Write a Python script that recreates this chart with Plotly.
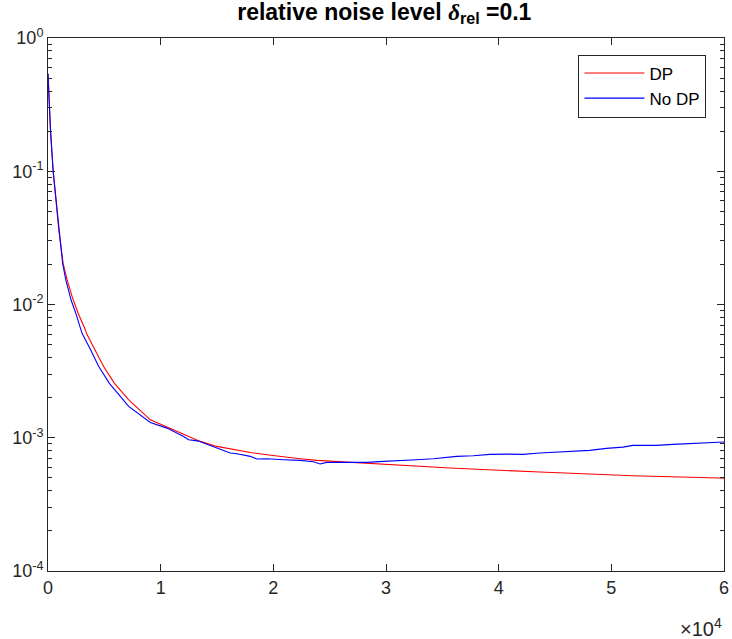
import plotly.graph_objects as go

# ---- data ----
dp_iter = [0, 222, 458, 960, 1345, 1699, 2142, 2674, 3324, 3410, 4150, 4940, 5900, 7150,
           9084, 10562, 12039, 13516, 14993, 16470, 17947, 19425, 20902, 22379, 23856,
           25333, 26810, 28288, 29765, 31242, 32719, 34196, 35673, 43650, 51921, 59602, 60000]
dp_err = [0.539, 0.203, 0.1, 0.0361, 0.0203, 0.0153, 0.01145, 0.00859, 0.00644, 0.00608,
          0.0046, 0.00342, 0.00256, 0.00193,
          1.364e-3, 1.202e-3, 1.053e-3, 9.39e-4, 8.61e-4, 8.13e-4, 7.76e-4, 7.46e-4,
          7.17e-4, 6.96e-4, 6.76e-4, 6.65e-4, 6.53e-4, 6.39e-4, 6.28e-4, 6.17e-4,
          6.10e-4, 5.99e-4, 5.93e-4, 5.53e-4, 5.19e-4, 4.99e-4, 4.97e-4]

nodp_iter = [0, 222, 458, 960, 1300, 1580, 2050, 2470, 2940, 3020, 3770, 4500, 5450, 6710,
             7160, 9084, 10562, 12039, 12482, 12925, 13368, 13811, 14993, 16175, 16766,
             17947, 18538, 19425, 20902, 22379, 23561, 24152, 24743, 26810, 28288, 29765,
             31242, 32719, 34196, 35082, 35673, 36264, 37740, 39218, 40695, 42172, 43650,
             45127, 46604, 48081, 49558, 51035, 51921, 53989, 55466, 56943, 58420, 59602,
             60000]
nodp_err = [0.539, 0.203, 0.1, 0.0361, 0.0203, 0.0153, 0.0108, 0.00859, 0.00645, 0.00608,
            0.0046, 0.00342, 0.00256, 0.00193, 1.72e-3, 1.302e-3, 1.181e-3, 1.023e-3,
            9.66e-4, 9.55e-4, 9.44e-4, 9.12e-4, 8.37e-4, 7.68e-4, 7.59e-4, 7.25e-4,
            6.92e-4, 6.96e-4, 6.84e-4, 6.76e-4, 6.61e-4, 6.35e-4, 6.53e-4, 6.57e-4,
            6.53e-4, 6.65e-4, 6.72e-4, 6.84e-4, 6.96e-4, 7.12e-4, 7.17e-4, 7.25e-4,
            7.33e-4, 7.50e-4, 7.54e-4, 7.50e-4, 7.68e-4, 7.81e-4, 7.99e-4, 8.04e-4,
            8.32e-4, 8.51e-4, 8.76e-4, 8.76e-4, 8.92e-4, 9.07e-4, 9.17e-4, 9.28e-4, 9.30e-4]

x_tick_vals = [0, 10000, 20000, 30000, 40000, 50000, 60000]
x_tick_text = ["0", "1", "2", "3", "4", "5", "6"]
y_tick_vals = [1e-4, 1e-3, 1e-2, 1e-1, 1e0]
y_tick_text = ["10<sup>-4</sup>", "10<sup>-3</sup>", "10<sup>-2</sup>",
               "10<sup>-1</sup>", "10<sup>0</sup>"]
y_minor_vals = [m * 10.0 ** e for e in range(-4, 0) for m in range(2, 10)]

AX = "#262626"
FONT = "Liberation Sans, Arial, Helvetica, sans-serif"

fig = go.Figure()
fig.add_trace(go.Scatter(x=dp_iter, y=dp_err, mode="lines", name="DP",
                         line=dict(color="#ff0000", width=1.1)))
fig.add_trace(go.Scatter(x=nodp_iter, y=nodp_err, mode="lines", name="No DP",
                         line=dict(color="#0000ff", width=1.1)))

fig.update_layout(
    width=732, height=639,
    margin=dict(l=47.5, r=7.5, t=37.5, b=67.5, autoexpand=False),
    paper_bgcolor="white", plot_bgcolor="white",
    font=dict(family=FONT, size=18, color=AX),
    title=dict(text="<b>relative noise level <i style='font-family:Liberation Serif, Times New Roman, serif'>δ</i><sub>rel</sub> =0.1</b>",
               x=0.525, xanchor="center", y=0.982, yanchor="middle",
               font=dict(family=FONT, size=23, color="#000000")),
    showlegend=True,
    legend=dict(x=0.974, xanchor="right", y=0.969, yanchor="top",
                bgcolor="white", bordercolor="#262626", borderwidth=1,
                font=dict(family=FONT, size=17, color="#000000"),
                itemwidth=60, tracegroupgap=0),
    xaxis=dict(range=[0, 60000], tickvals=x_tick_vals, ticktext=x_tick_text,
               showgrid=False, zeroline=False, showline=True, linecolor=AX,
               linewidth=1, mirror="ticks", ticks="inside", ticklen=7,
               tickcolor=AX, tickwidth=1, ticklabelstandoff=0,
               tickfont=dict(family=FONT, size=18, color=AX)),
    yaxis=dict(type="log", range=[-4, 0], tickvals=y_tick_vals, ticktext=y_tick_text,
               showgrid=False, zeroline=False, showline=True, linecolor=AX,
               linewidth=1, mirror="ticks", ticks="inside", ticklen=7,
               tickcolor=AX, tickwidth=1, ticklabelstandoff=0,
               tickfont=dict(family=FONT, size=18, color=AX)),
)
fig.update_yaxes(minor=dict(tickvals=y_minor_vals, ticks="inside", ticklen=4,
                            tickcolor=AX, tickwidth=1, showgrid=False))

fig.add_annotation(text="×10<sup>4</sup>", xref="paper", yref="paper",
                   x=1.0, y=-0.078, xanchor="right", yanchor="top",
                   showarrow=False, font=dict(family=FONT, size=20, color=AX))

fig.write_html("out.html", config={"displayModeBar": False},
               post_script="document.body.style.margin='0';document.body.style.padding='0';")
